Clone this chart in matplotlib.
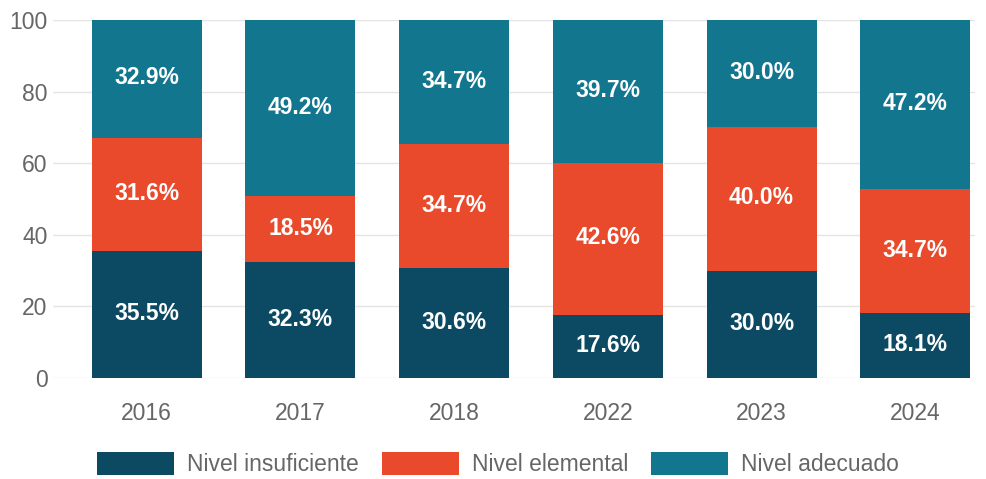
import numpy as np
import matplotlib.pyplot as plt

years = ['2016', '2017', '2018', '2022', '2023', '2024']
insuficiente = [35.5, 32.3, 30.6, 17.6, 30.0, 18.1]
elemental = [31.6, 18.5, 34.7, 42.6, 40.0, 34.7]
adecuado = [32.9, 49.2, 34.7, 39.7, 30.0, 47.2]

series = [('Nivel insuficiente', insuficiente, '#0c4a63'),
          ('Nivel elemental', elemental, '#e84a2b'),
          ('Nivel adecuado', adecuado, '#12768f')]

plt.rcParams['font.family'] = ['Liberation Sans', 'DejaVu Sans']

fig = plt.figure(figsize=(9.87, 4.79), dpi=100)
ax = fig.add_axes([0.0537, 0.2109, 0.9343, 0.7471])

x = np.arange(len(years))
bottom = np.zeros(len(years))
for name, vals, col in series:
    vals = np.array(vals)
    ax.bar(x, vals, 0.716, bottom=bottom, color=col, label=name, zorder=2)
    for xi, b, v in zip(x, bottom, vals):
        ax.text(xi, b + v / 2 + 0.3, f'{v:.1f}%', ha='center', va='center',
                color='white', fontsize=16.5, fontweight='bold', zorder=3)
    bottom += vals

ax.set_xlim(-0.61, 5.39)
ax.set_ylim(0, 100)
ax.set_yticks(range(0, 101, 20))
ax.set_xticks(x)
ax.set_xticklabels(years)
ax.grid(axis='y', color='#e4e4e4', linewidth=1, zorder=0)
for s in ax.spines.values():
    s.set_visible(False)
ax.tick_params(axis='both', length=0, labelcolor='#666666', labelsize=16.5)
ax.tick_params(axis='x', pad=17)
ax.tick_params(axis='y', pad=4)

fig.legend(loc='center', bbox_to_anchor=(0.5046, 0.031), ncol=3, frameon=False,
           fontsize=16.5, labelcolor='#666666', handlelength=3.36, handleheight=1.2,
           handletextpad=0.57, columnspacing=1.0)

plt.savefig('out.png', dpi=100)
